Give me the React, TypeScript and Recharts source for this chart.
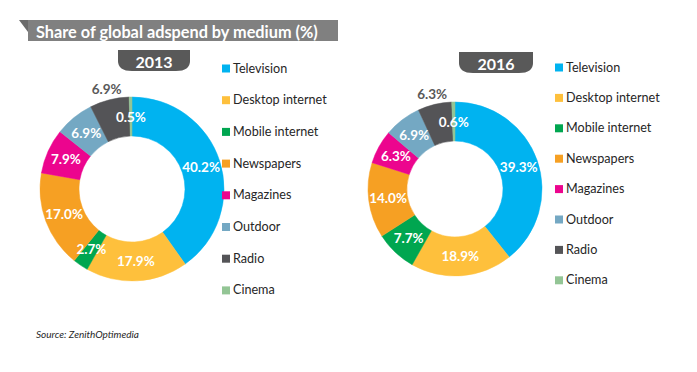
import { PieChart, Pie, Cell } from "recharts";

const categories = [
  "Television",
  "Desktop internet",
  "Mobile internet",
  "Newspapers",
  "Magazines",
  "Outdoor",
  "Radio",
  "Cinema",
];
const colors = ["#00B3F0", "#FEC03C", "#00A650", "#F6A023", "#EC058E", "#74A8C3", "#545457", "#93C595"];
const share2013 = [40.2, 17.9, 2.7, 17.0, 7.9, 6.9, 6.9, 0.5];
const share2016 = [39.3, 18.9, 7.7, 14.0, 6.3, 6.9, 6.3, 0.6];
const years = ["2013", "2016"];

const FONT = "Lato, 'Open Sans', sans-serif";
const RAD = Math.PI / 180;

const toRows = (vals: number[]) => categories.map((name, i) => ({ name, value: vals[i] }));

const renderLabel = (props: any) => {
  const { cx, cy, midAngle, innerRadius, outerRadius, value } = props;
  const name = props.name ?? props.payload?.name;
  // radio's value sits outside the ring, the rest in the middle of the band
  const outside = name === "Radio";
  const r = outside ? outerRadius + 11 : (innerRadius + outerRadius) / 2;
  const x = cx + r * Math.cos(-midAngle * RAD);
  const y = cy + r * Math.sin(-midAngle * RAD);
  return (
    <text
      x={x}
      y={y}
      fill={outside ? "#595959" : "#fff"}
      textAnchor="middle"
      dominantBaseline="central"
      fontFamily={FONT}
      fontWeight="bold"
      fontSize={13.5}
    >
      {value.toFixed(1)}%
    </text>
  );
};

function Tab({ x, y, w, h, label }: { x: number; y: number; w: number; h: number; label: string }) {
  const r = 10;
  return (
    <g>
      <path
        d={`M${x} ${y} H${x + w} V${y + h - r} Q${x + w} ${y + h} ${x + w - r * 1.4} ${y + h} H${x + r * 1.4} Q${x} ${y + h} ${x} ${y + h - r} Z`}
        fill="#595959"
      />
      <text x={x + w / 2} y={y + h / 2 + 1} textAnchor="middle" dominantBaseline="central" fill="#fff" fontFamily={FONT} fontWeight="bold" fontSize={16}>
        {label}
      </text>
    </g>
  );
}

function LegendList({ x, y, step }: { x: number; y: number; step: number }) {
  return (
    <g>
      {categories.map((c, i) => (
        <g key={c}>
          <rect x={x} y={y + i * step - 3.5} width={8} height={8} fill={colors[i]} />
          <text x={x + 11} y={y + i * step} dominantBaseline="central" fill="#262626" fontFamily={FONT} fontSize={12.6}>
            {c}
          </text>
        </g>
      ))}
    </g>
  );
}

export default function App() {
  return (
    <div style={{ position: "absolute", left: 0, top: 0, width: 697, height: 372, background: "#fff" }}>
      <PieChart width={697} height={372} style={{ position: "absolute", left: 0, top: 0 }}>
        <Pie
          data={toRows(share2013)}
          dataKey="value"
          nameKey="name"
          cx={127}
          cy={184}
          innerRadius={53}
          outerRadius={92}
          startAngle={90}
          endAngle={-270}
          label={renderLabel}
          labelLine={false}
          isAnimationActive={false}
        >
          {categories.map((c, i) => (
            <Cell key={c} fill={colors[i]} stroke={colors[i]} strokeWidth={0.5} />
          ))}
        </Pie>
        <Pie
          data={toRows(share2016)}
          dataKey="value"
          nameKey="name"
          cx={450}
          cy={184}
          innerRadius={48}
          outerRadius={87}
          startAngle={90}
          endAngle={-270}
          label={renderLabel}
          labelLine={false}
          isAnimationActive={false}
        >
          {categories.map((c, i) => (
            <Cell key={c} fill={colors[i]} stroke={colors[i]} strokeWidth={0.5} />
          ))}
        </Pie>
      </PieChart>
      <svg width={697} height={372} style={{ position: "absolute", left: 0, top: 0, pointerEvents: "none" }}>
        {/* title banner */}
        <polygon points="19,20 28,20 28,32" fill="#6b6b6b" />
        <rect x={28} y={20} width={310} height={21} fill="#808080" />
        <text x={36} y={31} dominantBaseline="central" fill="#fff" fontFamily={FONT} fontWeight="bold" fontSize={16.3}>
          Share of global adspend by medium (%)
        </text>
        <Tab x={118} y={50} w={72} h={21} label={years[0]} />
        <Tab x={459} y={52} w={74} h={21} label={years[1]} />
        <LegendList x={222} y={68} step={31.7} />
        <LegendList x={555} y={67} step={30.4} />
        <text x={36} y={334} dominantBaseline="central" fill="#262626" fontFamily={FONT} fontStyle="italic" fontSize={10}>
          Source: ZenithOptimedia
        </text>
      </svg>
    </div>
  );
}
